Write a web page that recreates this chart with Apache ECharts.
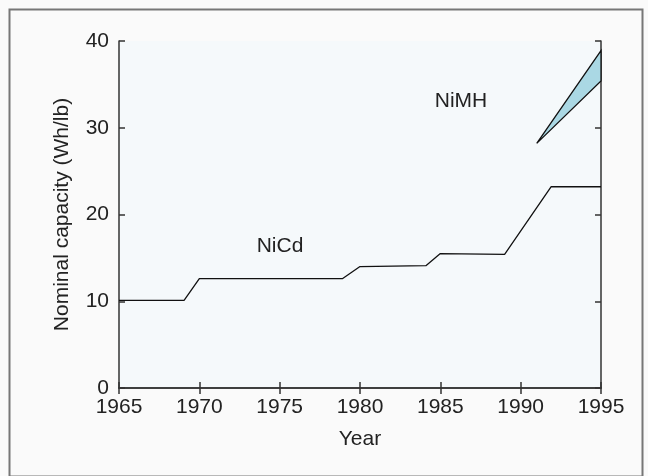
<!DOCTYPE html>
<html>
<head>
<meta charset="utf-8">
<script src="https://cdn.jsdelivr.net/npm/echarts@6/dist/echarts.min.js"></script>
<style>
html,body{margin:0;padding:0;background:#fafafa;}
#chart{width:648px;height:476px;}
</style>
</head>
<body>
<div id="chart"></div>
<script>
// NiCd nominal capacity (Wh/lb) by year
const nicdYears = [1965, 1969.05, 1970, 1978.9, 1980, 1984.1, 1985, 1989, 1991.9, 1995];
const nicdValues = [10.1, 10.1, 12.6, 12.6, 14.0, 14.1, 15.5, 15.4, 23.2, 23.2];
// NiMH band (low / high estimate)
const nimhYears = [1991, 1995];
const nimhLow = [28.2, 35.4];
const nimhHigh = [28.2, 38.9];
const xTicks = [1965, 1970, 1975, 1980, 1985, 1990, 1995];
const yTicks = [0, 10, 20, 30, 40];

const chart = echarts.init(document.getElementById('chart'), null, {renderer: 'canvas'});
const font = 'Liberation Sans, Arial, Helvetica, sans-serif';
const fs = 21;
const axisLine = {show: true, lineStyle: {color: '#333', width: 1.5}};
const tickStyle = {show: true, inside: true, length: 6, lineStyle: {color: '#333', width: 1.5}};

const nicdData = nicdYears.map((y, i) => [y, nicdValues[i]]);
// polygon points: along high edge then back along low edge
const bandPoints = nimhYears.map((y, i) => [y, nimhHigh[i]])
  .concat(nimhYears.map((y, i) => [y, nimhLow[i]]).reverse());

chart.setOption({
  backgroundColor: '#fafafa',
  animation: false,
  grid: {left: 119, right: 47, top: 41, bottom: 88, show: true, backgroundColor: '#f5f9fb', borderWidth: 0},
  xAxis: [{
    type: 'value', min: xTicks[0], max: xTicks[xTicks.length - 1], interval: 5,
    name: 'Year', nameLocation: 'middle', nameGap: 41,
    nameTextStyle: {fontFamily: font, fontSize: fs, color: '#222'},
    axisLine: axisLine, axisTick: tickStyle, splitLine: {show: false},
    axisLabel: {fontFamily: font, fontSize: fs, color: '#222', margin: 9, formatter: v => String(v)}
  }, {
    type: 'value', position: 'top', min: xTicks[0], max: xTicks[xTicks.length - 1], interval: 5,
    axisLine: axisLine, axisTick: tickStyle, splitLine: {show: false}, axisLabel: {show: false}
  }],
  yAxis: [{
    type: 'value', min: yTicks[0], max: yTicks[yTicks.length - 1], interval: 10,
    name: 'Nominal capacity (Wh/lb)', nameLocation: 'middle', nameGap: 46, nameRotate: 90,
    nameTextStyle: {fontFamily: font, fontSize: fs, color: '#222'},
    axisLine: axisLine, axisTick: tickStyle, splitLine: {show: false},
    axisLabel: {fontFamily: font, fontSize: fs, color: '#222', margin: 10}
  }, {
    type: 'value', position: 'right', min: yTicks[0], max: yTicks[yTicks.length - 1], interval: 10,
    axisLine: axisLine, axisTick: tickStyle, splitLine: {show: false}, axisLabel: {show: false}
  }],
  series: [{
    type: 'line', name: 'NiCd', data: nicdData, showSymbol: false,
    lineStyle: {color: '#111', width: 1.3}
  }, {
    type: 'custom', name: 'NiMH', data: [0],
    renderItem: function (params, api) {
      const pts = bandPoints.map(p => api.coord(p));
      return {
        type: 'polygon',
        shape: {points: pts},
        style: {fill: '#aad8e4', stroke: '#111', lineWidth: 1.3, lineJoin: 'miter'}
      };
    }
  }],
  graphic: [{
    type: 'rect', left: 7, top: 7, shape: {width: 633, height: 467},
    style: {fill: 'none', stroke: '#777', lineWidth: 2}, z: 100
  }, {
    type: 'text', x: 280, y: 246,
    style: {text: 'NiCd', font: fs + 'px ' + font, fill: '#222', textAlign: 'center', textVerticalAlign: 'middle'}
  }, {
    type: 'text', x: 461, y: 101,
    style: {text: 'NiMH', font: fs + 'px ' + font, fill: '#222', textAlign: 'center', textVerticalAlign: 'middle'}
  }]
});
</script>
</body>
</html>
